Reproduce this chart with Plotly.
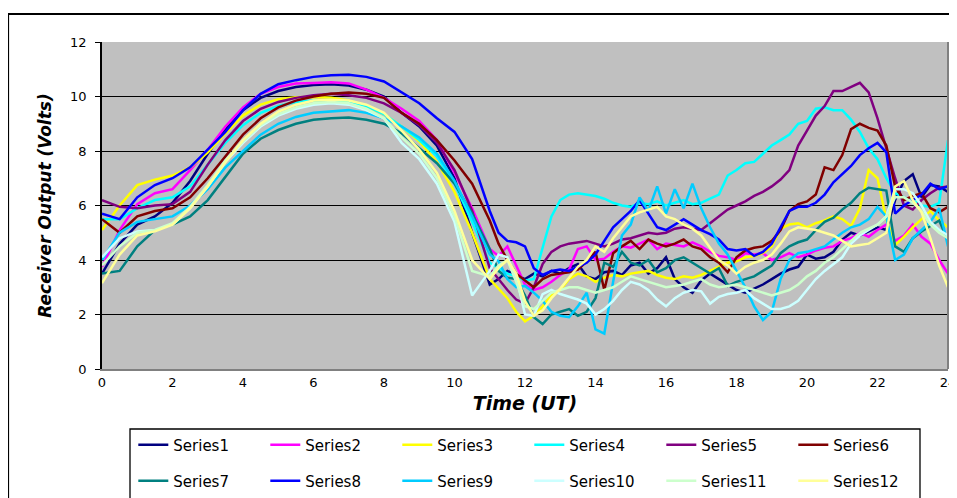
import plotly.graph_objects as go

hours = [0, 0.5, 1, 1.5, 2, 2.5, 3, 3.5, 4, 4.5, 5, 5.5, 6, 6.5, 7, 7.5, 8, 8.5, 9, 9.5, 10, 10.5, 11,
         11.25, 11.5, 11.75, 12, 12.25, 12.5, 12.75, 13, 13.25, 13.5, 13.75, 14, 14.25, 14.5, 14.75,
         15, 15.25, 15.5, 15.75, 16, 16.25, 16.5, 16.75, 17, 17.25, 17.5, 17.75, 18, 18.25, 18.5,
         18.75, 19, 19.25, 19.5, 19.75, 20, 20.25, 20.5, 20.75, 21, 21.25, 21.5, 21.75, 22, 22.25,
         22.5, 22.75, 23, 23.25, 23.5, 23.75, 24]

x_ticks = [0, 2, 4, 6, 8, 10, 12, 14, 16, 18, 20, 22, 24]
y_ticks = [0, 2, 4, 6, 8, 10, 12]

series_names = ["Series1", "Series2", "Series3", "Series4", "Series5", "Series6",
                "Series7", "Series8", "Series9", "Series10", "Series11", "Series12"]

series1 = [3.5, 4.6, 5.3, 5.6, 6.1, 6.9, 7.9, 8.8, 9.5, 9.95, 10.2, 10.35, 10.42, 10.45, 10.4, 10.25, 10.0,
           9.4, 8.9, 8.2, 7.0, 5.0, 3.1,
           3.3, 3.6, 3.45, 3.3, 3.5, 3.4, 3.6, 3.5, 3.7, 3.85, 3.4, 3.3, 3.55, 3.6, 3.45, 3.8, 3.9, 3.5,
           3.7, 4.1, 3.3, 3.0, 2.8, 3.25, 3.5, 3.3, 3.1, 2.9, 2.8, 2.95, 3.1, 3.3, 3.5, 3.65, 3.75, 4.2,
           4.05, 4.1, 4.3, 4.75, 5.0, 4.9, 5.05, 5.2, 5.1, 6.2, 6.9, 7.15, 6.3, 6.75, 6.7, 6.5]
series2 = [3.75, 5.1, 6.05, 6.45, 6.6, 7.3, 8.05, 8.9, 9.6, 10.1, 10.35, 10.48, 10.5, 10.52, 10.48, 10.25,
           9.95, 9.55, 9.1, 8.4, 7.2, 5.9, 4.4,
           4.15, 4.5, 3.8, 3.1, 2.9, 3.0, 3.2, 3.45, 3.65, 4.4, 4.5, 4.0, 4.05, 4.3, 4.5, 4.45, 4.6, 4.75,
           4.4, 4.6, 4.55, 4.5, 4.65, 4.5, 4.3, 4.15, 4.1, 4.0, 4.25, 4.2, 4.25, 4.0, 4.1, 4.25, 4.1, 4.2,
           4.35, 4.45, 4.5, 4.7, 4.8, 5.0, 4.85, 5.1, 5.3, 4.7, 4.9, 5.3, 4.85, 4.6, 4.0, 3.5]
series3 = [5.1, 6.0, 6.75, 6.95, 7.1, 7.4, 7.95, 8.65, 9.3, 9.7, 9.9, 9.97, 9.98, 9.95, 9.85, 9.65, 9.35,
           8.9, 8.35, 7.6, 6.5, 5.0, 3.3,
           2.95, 2.6, 2.1, 1.75, 1.95, 2.3, 2.7, 2.9, 3.3, 3.5, 3.4, 3.2, 3.35, 3.45, 3.4, 3.5, 3.55, 3.6,
           3.45, 3.35, 3.3, 3.4, 3.35, 3.45, 3.6, 3.75, 3.9, 3.95, 4.1, 4.15, 4.25, 4.5, 5.15, 5.3, 5.35,
           5.2, 5.35, 5.45, 5.6, 5.5, 5.25, 5.9, 7.3, 7.0, 5.5, 4.55, 4.85, 5.2, 5.5, 5.8, 5.45, 5.2]
series4 = [5.5, 5.5, 5.9, 6.2, 6.3, 6.7, 7.5, 8.3, 8.95, 9.4, 9.65, 9.8, 9.85, 9.87, 9.8, 9.65, 9.35, 8.9,
           8.4, 7.8, 6.8, 5.4, 3.9,
           3.7, 3.5, 3.4, 3.25, 3.3, 4.5, 5.6, 6.2, 6.4, 6.45, 6.4, 6.35, 6.25, 6.1, 6.0, 5.95, 6.1, 6.05,
           6.15, 6.0, 6.1, 6.2, 6.05, 6.1, 6.25, 6.4, 7.1, 7.3, 7.55, 7.6, 7.9, 8.2, 8.4, 8.6, 9.0, 9.1,
           9.55, 9.6, 9.5, 9.5, 9.15, 8.7, 8.1, 7.7, 7.0, 6.45, 6.3, 6.2, 6.0, 5.95, 6.1, 8.4]
series5 = [6.2, 5.95, 5.9, 6.0, 6.05, 6.5, 7.5, 8.4, 9.1, 9.55, 9.8, 9.95, 10.05, 10.1, 10.05, 9.95, 9.75,
           9.4, 8.95, 8.3, 7.3, 5.8, 3.7,
           3.3, 2.9, 2.55, 2.4, 3.0, 3.85, 4.3, 4.5, 4.6, 4.65, 4.7, 4.6, 4.5, 4.6, 4.75, 4.8, 4.9, 5.0,
           4.95, 5.0, 5.15, 5.2, 5.15, 5.1, 5.35, 5.6, 5.85, 6.0, 6.15, 6.35, 6.5, 6.7, 6.95, 7.3, 8.2,
           8.75, 9.3, 9.65, 10.2, 10.2, 10.35, 10.5, 10.15, 9.2, 8.1, 7.0, 6.0, 5.85, 6.2, 6.45, 6.65, 6.7]
series6 = [5.5, 5.0, 5.6, 5.8, 5.9, 6.3, 7.0, 7.8, 8.6, 9.2, 9.6, 9.85, 10.0, 10.1, 10.15, 10.1, 9.95, 9.4,
           9.0, 8.4, 7.65, 6.8, 5.45,
           4.6, 4.0, 3.5, 3.25, 3.0, 3.3, 3.45, 3.5, 3.55, 3.65, 3.95, 4.3, 2.9, 4.25, 4.5, 4.7, 4.4, 4.75,
           4.6, 4.5, 4.6, 4.75, 4.5, 4.4, 4.1, 3.9, 3.55, 4.1, 4.35, 4.45, 4.5, 4.7, 5.1, 5.8, 6.05, 6.15,
           6.4, 7.4, 7.3, 7.85, 8.8, 9.0, 8.85, 8.75, 8.2, 6.7, 6.2, 6.35, 6.45, 5.9, 5.75, 5.95]
series7 = [3.5, 3.6, 4.5, 5.1, 5.3, 5.6, 6.2, 7.05, 7.9, 8.45, 8.77, 9.0, 9.15, 9.2, 9.23, 9.15, 9.0, 8.65,
           8.1, 7.55, 6.8, 5.7, 4.4,
           3.6, 3.35, 3.3, 2.7, 1.9, 1.65, 2.0, 2.1, 2.2, 1.95, 2.1, 2.6, 3.9, 3.75, 4.3, 3.9, 3.8, 4.0,
           3.55, 3.7, 4.0, 4.1, 3.9, 3.7, 3.5, 3.7, 3.05, 3.2, 3.3, 3.4, 3.6, 3.8, 4.25, 4.5, 4.65, 4.75,
           5.1, 5.4, 5.55, 5.85, 6.1, 6.45, 6.65, 6.6, 6.55, 4.5, 4.3, 4.8, 5.05, 5.25, 5.45, 4.7]
series8 = [5.7, 5.5, 6.3, 6.75, 7.0, 7.4, 8.05, 8.7, 9.5, 10.1, 10.45, 10.6, 10.72, 10.78, 10.8, 10.72,
           10.55, 10.15, 9.75, 9.2, 8.7, 7.7, 5.8,
           5.0, 4.7, 4.65, 4.5, 3.7, 3.45, 3.6, 3.65, 3.6, 3.75, 3.9, 4.2, 4.7, 5.2, 5.5, 5.8, 6.2, 5.7,
           5.2, 5.1, 5.3, 5.5, 5.3, 5.1, 4.95, 4.75, 4.4, 4.35, 4.4, 4.15, 4.3, 4.6, 5.2, 5.8, 5.95, 5.95,
           6.1, 6.4, 6.85, 7.15, 7.45, 7.85, 8.1, 8.3, 7.95, 5.7, 6.0, 6.2, 6.4, 6.8, 6.6, 6.7]
series9 = [4.0, 5.0, 5.4, 5.5, 5.6, 6.0, 6.6, 7.4, 8.0, 8.6, 9.0, 9.25, 9.4, 9.45, 9.5, 9.4, 9.2, 8.9,
           8.5, 7.9, 6.9, 5.6, 4.2,
           3.95, 3.3, 3.0, 3.05, 2.8, 2.5, 2.1, 1.95, 1.9, 2.3, 2.8, 1.45, 1.3, 3.2, 4.9, 5.3, 6.3, 5.8,
           6.7, 5.7, 6.6, 5.9, 6.8, 5.9, 5.2, 4.6, 4.2, 3.6, 3.0, 2.3, 1.8, 2.1, 3.3, 4.0, 4.25, 4.3,
           4.4, 4.5, 4.75, 5.0, 5.2, 5.3, 5.5, 5.95, 5.6, 4.0, 4.2, 4.8, 5.1, 5.4, 5.9, 4.5]
series10 = [4.1, 4.8, 5.05, 5.1, 5.3, 5.9, 6.7, 7.6, 8.3, 8.9, 9.3, 9.55, 9.7, 9.75, 9.7, 9.5, 9.2, 8.3,
            7.7, 6.8, 5.4, 2.7, 3.6,
            4.2, 4.1, 3.4, 2.0, 1.95, 2.75, 2.9, 2.75, 2.65, 2.55, 2.4, 2.0, 2.2, 2.5, 2.9, 3.2, 3.1, 2.9,
            2.55, 2.3, 2.6, 2.8, 2.9, 2.85, 2.4, 2.65, 2.75, 2.8, 2.9, 2.6, 2.4, 2.2, 2.2, 2.3, 2.5, 2.9,
            3.3, 3.6, 3.85, 4.1, 4.6, 4.9, 5.1, 5.3, 5.6, 6.6, 6.6, 6.45, 6.0, 5.4, 5.1, 4.9]
series11 = [3.8, 4.5, 5.0, 5.1, 5.35, 5.95, 6.75, 7.65, 8.35, 8.95, 9.35, 9.6, 9.75, 9.8, 9.75, 9.55, 9.2,
            8.5, 7.9, 7.0, 5.6, 3.6, 3.4,
            3.8, 4.0, 3.2, 2.3, 2.2, 2.5, 2.8, 2.9, 3.0, 3.0, 2.9, 2.8, 2.9, 3.0, 3.2, 3.4, 3.3, 3.2,
            3.1, 3.0, 3.05, 3.1, 3.2, 3.3, 3.1, 3.0, 3.05, 3.1, 3.0, 2.9, 2.8, 2.7, 2.8, 2.9, 3.1, 3.4,
            3.6, 3.9, 4.1, 4.4, 4.7, 5.0, 5.15, 5.3, 5.6, 6.3, 6.3, 6.1, 5.8, 5.3, 5.0, 4.8]
series12 = [3.15, 4.2, 4.9, 5.05, 5.3, 5.9, 6.7, 7.6, 8.4, 9.0, 9.45, 9.7, 9.85, 9.88, 9.85, 9.7, 9.4,
            8.75, 8.05, 7.2, 5.8, 4.0, 3.3,
            3.7, 4.0, 3.5, 2.5, 1.95, 2.15, 2.6, 2.95, 3.35, 3.75, 4.0, 4.5, 4.3, 4.8, 5.2, 5.6, 5.75, 5.85,
            5.95, 5.6, 5.5, 5.3, 5.15, 4.9, 4.45, 4.0, 3.8, 3.5, 3.75, 3.9, 4.0, 4.2, 4.6, 5.05, 5.2, 5.15,
            5.1, 5.0, 4.9, 4.7, 4.5, 4.55, 4.6, 4.8, 5.0, 6.7, 6.9, 6.2, 5.75, 4.8, 3.8, 3.0]

all_series = [series1, series2, series3, series4, series5, series6,
              series7, series8, series9, series10, series11, series12]
colors = ["#000080", "#FF00FF", "#FFFF00", "#00FFFF", "#800080", "#800000",
          "#008080", "#0000FF", "#00CCFF", "#CCFFFF", "#CCFFCC", "#FFFF99"]

for s in all_series:
    assert len(s) == len(hours), len(s)

fig = go.Figure()
for i, (name, vals, col) in enumerate(zip(series_names, all_series, colors)):
    fig.add_trace(go.Scatter(
        x=hours, y=vals, mode="lines", name=name,
        line=dict(color=col, width=2.5),
        legend="legend" if i < 6 else "legend2",
    ))

tick_font = dict(family="DejaVu Sans", size=13, color="black")
leg_font = dict(family="DejaVu Sans", size=15, color="black")

legend_common = dict(
    orientation="h", xanchor="left", yanchor="middle",
    entrywidth=87, entrywidthmode="pixels",
    font=leg_font, bgcolor="rgba(0,0,0,0)", borderwidth=0,
    traceorder="normal",
)

fig.update_layout(
    width=949, height=490,
    margin=dict(l=94, r=9, t=34, b=129, autoexpand=False),
    paper_bgcolor="white",
    plot_bgcolor="#C0C0C0",
    showlegend=True,
    legend=dict(x=0.037, y=-0.2324, **legend_common),
    legend2=dict(x=0.037, y=-0.3425, **legend_common),
    xaxis=dict(
        range=[0, 24], tickvals=x_ticks, ticktext=[str(t) for t in x_ticks],
        showgrid=False, zeroline=False,
        showline=True, linecolor="#808080", linewidth=2,
        ticks="", tickfont=tick_font,
        title=dict(text="<b><i>Time (UT)</i></b>",
                   font=dict(family="DejaVu Sans", size=19, color="black"),
                   standoff=8),
    ),
    yaxis=dict(
        range=[0, 12], tickvals=y_ticks,
        showgrid=True, gridcolor="#000000", gridwidth=1,
        zeroline=False,
        showline=True, linecolor="#000000", linewidth=1.5,
        ticks="outside", ticklen=5, tickcolor="#000000",
        ticklabelstandoff=6,
        tickfont=tick_font,
        title=dict(text="<b><i>Receiver Output (Volts)</i></b>",
                   font=dict(family="DejaVu Sans", size=17, color="black"),
                   standoff=14),
    ),
    shapes=[
        dict(type="rect", xref="paper", yref="paper",
             x0=-0.111, x1=1.2, y0=-0.7, y1=1.0856,
             line=dict(color="black", width=2), fillcolor="rgba(0,0,0,0)"),
        dict(type="line", xref="paper", yref="paper",
             x0=1, x1=1, y0=0, y1=1,
             line=dict(color="#808080", width=2)),
        dict(type="rect", xref="paper", yref="paper",
             x0=0.0331, x1=0.9669, y0=-0.7, y1=-0.1835,
             line=dict(color="black", width=1.3), fillcolor="rgba(0,0,0,0)"),
    ],
)

fig.write_html("out.html")
